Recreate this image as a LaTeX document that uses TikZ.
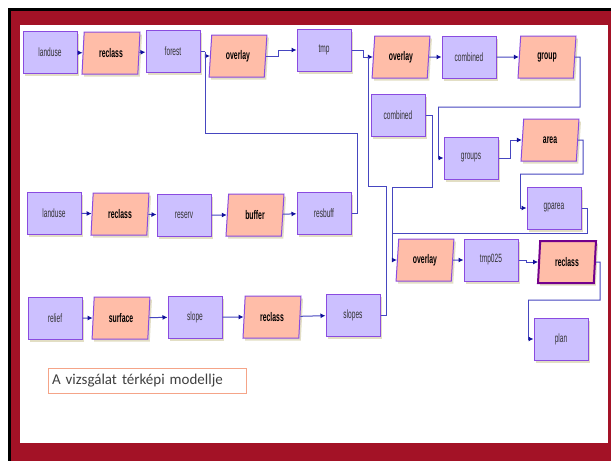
\documentclass[tikz,border=0pt]{standalone}
\usepackage{fontspec}
\usetikzlibrary{shapes.geometric,shadows,arrows.meta}
\newfontfamily\nodefont[FakeStretch=0.55]{Liberation Sans}
\newfontfamily\capfont{Carlito}
\definecolor{framered}{HTML}{A31226}
\definecolor{datafill}{HTML}{CCC0FF}
\definecolor{toolfill}{HTML}{FFBDA8}
\definecolor{nodeborder}{HTML}{8A4BE0}
\definecolor{shadowcol}{HTML}{E2DEC4}
\definecolor{linecol}{HTML}{4646C0}
\definecolor{arrowcol}{HTML}{10109A}
\definecolor{capborder}{HTML}{F5A488}
\tikzset{
  base/.style={draw=nodeborder, line width=1pt, minimum height=42pt, inner sep=0pt,
    drop shadow={shadow xshift=2pt, shadow yshift=-2.5pt, fill=shadowcol, opacity=1}},
  data/.style={base, rectangle, fill=datafill, minimum width=54pt,
    font=\nodefont\fontsize{12}{13}\selectfont, text=black!80},
  tool/.style={base, trapezium, trapezium left angle=84, trapezium right angle=96,
    trapezium stretches=true, fill=toolfill, minimum width=58pt,
    font=\nodefont\bfseries\fontsize{12.5}{13}\selectfont, text=black},
  conn/.style={draw=linecol, line width=1pt},
  arr/.style={conn, -{Latex[length=5pt,width=5pt,color=arrowcol]}},
}
\begin{document}
\begin{tikzpicture}[x=1pt,y=-1pt]
\useasboundingbox (0,0) rectangle (611,461);
\fill[white] (0,0) rectangle (611,461);
\fill[black] (8,8) rectangle (611,461);
\fill[framered] (11,11) rectangle (611,461);
\fill[white] (20,25) rectangle (608,443);

% top row
\node[data] (lu1) at (50,52.5) {landuse};
\node[tool] (rc1) at (111,53) {reclass};
\node[data] (forest) at (173,51.5) {forest};
\node[tool] (ov1) at (238,56) {overlay};
\node[data] (tmp) at (324,50) {tmp};
\node[tool] (ov2) at (401,57) {overlay};
\node[data] (comb1) at (469,57) {combined};
\node[tool] (group) at (547,57) {group};
\node[data] (comb2) at (398,115) {combined};
\node[data] (groups) at (471,158) {groups};
\node[tool] (area) at (550,140) {area};
\node[data] (gparea) at (554,208) {gparea};

% middle row
\node[data] (lu2) at (54,213) {landuse};
\node[tool] (rc2) at (120,214) {reclass};
\node[data] (reserv) at (184,215) {reserv};
\node[tool] (buffer) at (255,215) {buffer};
\node[data] (resbuff) at (324,213) {resbuff};

% right column lower
\node[tool] (ov3) at (425,260) {overlay};
\node[data] (tmp025) at (491,260) {tmp025};
\node[tool, line width=2pt, draw=violet!90!blue] (rc4) at (567,262) {reclass};
\node[data] (plan) at (561,339) {plan};

% bottom row
\node[data] (relief) at (55,318) {relief};
\node[tool] (surface) at (121,318) {surface};
\node[data] (slope) at (195,317) {slope};
\node[tool] (rc3) at (272,317) {reclass};
\node[data] (slopes) at (353,315) {slopes};

% caption
\node[draw=capborder, line width=0.8pt, minimum width=198pt, minimum height=25pt,
  text width=190pt, align=left, inner sep=4pt,
  font=\capfont\fontsize{15}{16}\selectfont, text=black!75] (cap) at (147,380.5)
  {A vizsgálat térképi modellje};

% junction coordinates
\coordinate (j1) at (205,51.5);
\coordinate (r1) at (357,133);
\coordinate (r2) at (205,133);
\coordinate (j2) at (368,57);
\coordinate (s1) at (386,315);
\coordinate (s2) at (386,186);
\coordinate (s3) at (368,186);
\coordinate (g1) at (580,57);
\coordinate (g2) at (580,107);
\coordinate (g3) at (438,107);
\coordinate (a1) at (583,140);
\coordinate (a2) at (583,174);
\coordinate (a3) at (520,174);
\coordinate (p1) at (587,208);
\coordinate (p2) at (587,233);
\coordinate (p3) at (392,233);
\coordinate (c1) at (432,115);
\coordinate (c2) at (432,187);
\coordinate (c3) at (392,187);
\coordinate (q1) at (600,262);
\coordinate (q2) at (600,300);
\coordinate (q3) at (528,300);

% connectors top
\draw[arr] (lu1) -- (rc1);
\draw[arr] (rc1) -- (forest);
\draw[conn] (forest.east) -- (j1);
\draw[arr] (j1) |- (ov1.west);
\draw[conn] (resbuff.east) -| (r1) -- (r2) -- (j1);
\draw[arr] (ov1.east) -- ++(12,0) |- (tmp.west);
\draw[arr] (tmp.east) -- ++(12,0) |- (ov2.west);
\draw[conn] (slopes.east) -- (s1) -- (s2) -- (s3) -- (j2);
\draw[arr] (ov2) -- (comb1);
\draw[arr] (comb1) -- (group);
\draw[conn] (group.east) -- (g1) -- (g2) -- (g3);
\draw[arr] (g3) |- (groups.west);
\draw[arr] (groups.east) -- ++(12,0) |- (area.west);
\draw[conn] (area.east) -- (a1) -- (a2) -- (a3);
\draw[arr] (a3) |- (gparea.west);
\draw[conn] (gparea.east) -- (p1) -- (p2) -- (p3);
\draw[conn] (comb2.east) -- (c1) -- (c2) -- (c3) -- (p3);
\draw[arr] (p3) |- (ov3.west);
\draw[arr] (ov3) -- (tmp025);
\draw[arr] (tmp025.east) -- ++(8,0) |- (rc4.west);
\draw[conn] (rc4.east) -- (q1) -- (q2) -- (q3);
\draw[arr] (q3) |- (plan.west);

% middle connectors
\draw[arr] (lu2) -- (rc2);
\draw[arr] (rc2) -- (reserv);
\draw[arr] (reserv) -- (buffer);
\draw[arr] (buffer) -- (resbuff);

% bottom connectors
\draw[arr] (relief) -- (surface);
\draw[arr] (surface) -- (slope);
\draw[arr] (slope) -- (rc3);
\draw[arr] (rc3) -- (slopes);
\end{tikzpicture}
\end{document}
